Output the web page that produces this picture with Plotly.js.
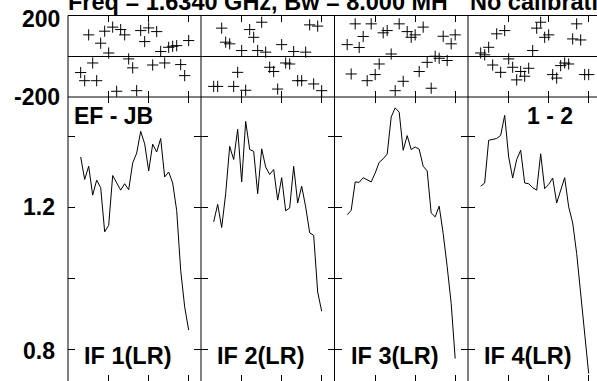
<!DOCTYPE html>
<html><head><meta charset="utf-8">
<script src="https://cdn.plot.ly/plotly-3.0.1.min.js"></script>
<style>html,body{margin:0;padding:0;background:#fff;overflow:hidden}#chart{width:597px;height:381px}</style>
</head><body><div id="chart"></div>
<script>
// ---- data ----
const channels = [3,4,5,6,7,8,9,10,11,12,13,14,15,16,17,18,19,20,21,22,23,24,25,26,27,28,29,30];
const phaseIF1 = [-80,-120,105,-33,-120,64,123,16,143,-172,131,105,-13,-57,-169,126,72,139,-43,121,23,-33,44,49,52,-41,-95,77];
const phaseIF2 = [-148,-148,138,69,61,-148,-79,28,-167,131,93,28,167,20,-54,-75,-161,57,-33,-38,23,-120,-120,20,154,-136,148,-169];
const phaseIF3 = [57,-87,159,43,97,-120,159,-90,-38,115,126,11,-169,159,-123,121,93,105,-75,143,-30,-157,0,-10,98,-21,61,105];
const phaseIF4 = [16,7,44,-43,110,-79,126,-13,-54,-116,-75,-98,-59,28,138,167,93,105,-90,-107,-46,-33,-38,85,159,80,-90,-90];
const ampIF1 = [1.341,1.278,1.315,1.234,1.276,1.255,1.131,1.149,1.289,1.268,1.248,1.266,1.249,1.324,1.352,1.413,1.378,1.302,1.377,1.355,1.393,1.285,1.299,1.268,1.191,1.023,0.920,0.855];
const ampIF2 = [1.159,1.208,1.143,1.238,1.371,1.334,1.419,1.271,1.441,1.362,1.357,1.238,1.364,1.313,1.292,1.306,1.220,1.283,1.190,1.198,1.315,1.212,1.259,1.201,1.128,1.121,0.962,0.908];
const ampIF3 = [1.179,1.191,1.271,1.270,1.283,1.276,1.271,1.296,1.326,1.336,1.349,1.453,1.479,1.467,1.360,1.401,1.362,1.369,1.363,1.315,1.302,1.184,1.173,1.203,1.126,1.033,0.930,0.775];
const ampIF4 = [1.259,1.268,1.388,1.390,1.393,1.402,1.458,1.341,1.282,1.334,1.360,1.268,1.266,1.255,1.248,1.350,1.252,1.264,1.282,1.212,1.246,1.283,1.201,1.156,1.070,0.958,0.846,0.733];
const ifLabels = ['IF 1(LR)','IF 2(LR)','IF 3(LR)','IF 4(LR)'];
const xTickVals = [10,20,30];
const phaseRange = [-200,200];
const phaseTickVals = [200,-200];
const phaseTickText = ['200','-200'];
const ampTickVals = [0.8,1.0,1.2,1.4];
const ampLabelVals = [1.2,0.8];
const ampLabelText = ['1.2','0.8'];
const titleText = 'Freq = 1.6340 GHz, Bw = 8.000 MHz';
const calText = 'No calibration';
const baselineText = 'EF - JB';
const stokesText = '1 - 2';

// ---- layout helpers ----
const W = 597, H = 381;
const px = p => p / W;
const py = p => (H - p) / H;
const panelX = [[68,201],[201,334.5],[334.5,468],[468,597]];
const phaseTop = 15.5, midY = 97;
const chPerPx = 0.25;
const xLeft = -0.17;
const ampRange = [0.7121, 1.5095];
const FONT = 'Liberation Sans, Arial, Helvetica, sans-serif';

const phases = [phaseIF1, phaseIF2, phaseIF3, phaseIF4];
const amps = [ampIF1, ampIF2, ampIF3, ampIF4];

const data = [];
const layout = {
  width: W, height: H, autosize: false,
  margin: {l:0, r:0, t:0, b:0, pad:0},
  paper_bgcolor: '#fff', plot_bgcolor: 'rgba(0,0,0,0)',
  showlegend: false,
  shapes: [], annotations: []
};

for (let i = 0; i < 4; i++) {
  const pi = i + 1, ai = i + 5;
  const [x0, x1] = panelX[i];
  const range = [xLeft, xLeft + (x1 - x0) * chPerPx];
  data.push({x: channels, y: phases[i], xaxis: 'x' + pi, yaxis: 'y' + pi, type: 'scatter', mode: 'markers',
    marker: {symbol: 'cross-thin', size: 8, color: '#000', line: {width: 1, color: '#000'}}, hoverinfo: 'skip'});
  data.push({x: channels, y: amps[i], xaxis: 'x' + ai, yaxis: 'y' + ai, type: 'scatter', mode: 'lines',
    line: {color: '#000', width: 1}, hoverinfo: 'skip'});
  const xcommon = {range: range, showgrid: false, zeroline: false, showline: false, ticks: 'inside', ticklen: 6, tickwidth: 1,
    tickcolor: '#000', tickvals: xTickVals, showticklabels: false, mirror: 'ticks', fixedrange: true,
    domain: [px(x0), px(x1)]};
  layout['xaxis' + pi] = Object.assign({}, xcommon, {anchor: 'y' + pi});
  layout['xaxis' + ai] = Object.assign({}, xcommon, {anchor: 'y' + ai});
  layout['yaxis' + pi] = {anchor: 'x' + pi, domain: [py(midY), py(phaseTop)], range: phaseRange, showgrid: false,
    zeroline: true, zerolinecolor: '#000', zerolinewidth: 1, showline: false, ticks: '', showticklabels: false, fixedrange: true};
  layout['yaxis' + ai] = {anchor: 'x' + ai, domain: [0, py(midY)], range: ampRange, showgrid: false, zeroline: false,
    showline: false, ticks: 'inside', ticklen: 7, tickwidth: 1, tickcolor: '#000', tickvals: ampTickVals,
    showticklabels: false, mirror: i < 3 ? 'ticks' : false, fixedrange: true};
  // frame: vertical left border
  layout.shapes.push({type: 'line', xref: 'paper', yref: 'paper', x0: px(x0), x1: px(x0), y0: py(phaseTop), y1: -0.01,
    line: {color: '#000', width: 1}});
  // IF label
  layout.annotations.push({xref: 'paper', yref: 'paper', x: px(x0 + 15), y: py(355.5), xanchor: 'left', yanchor: 'middle',
    text: ifLabels[i], showarrow: false, borderpad: 0, font: {family: FONT, size: 23.5, color: '#000', weight: 'bold'}});
}
// horizontal frame lines
[phaseTop, midY].forEach(yy => layout.shapes.push({type: 'line', xref: 'paper', yref: 'paper', x0: px(68), x1: 1.01,
  y0: py(yy), y1: py(yy), line: {color: '#000', width: 1}}));

// y labels
phaseTickVals.forEach((v, k) => layout.annotations.push({xref: 'paper', yref: 'y1', x: px(61), y: v, yshift: k === 0 ? -4 : 0,
  xanchor: 'right', yanchor: 'middle', text: phaseTickText[k], showarrow: false, borderpad: 0,
  font: {family: FONT, size: 23, color: '#000', weight: 'bold'}}));
ampLabelVals.forEach((v, k) => layout.annotations.push({xref: 'paper', yref: 'y5', x: px(55.5), y: v, yshift: k === 1 ? -1 : 0,
  xanchor: 'right', yanchor: 'middle', text: ampLabelText[k], showarrow: false, borderpad: 0,
  font: {family: FONT, size: 23, color: '#000', weight: 'bold'}}));

// panel labels
layout.annotations.push({xref: 'paper', yref: 'paper', x: px(73), y: py(116), xanchor: 'left', yanchor: 'middle',
  text: baselineText, showarrow: false, borderpad: 0, font: {family: FONT, size: 23, color: '#000', weight: 'bold'}});
layout.annotations.push({xref: 'paper', yref: 'paper', x: px(574), y: py(116), xanchor: 'right', yanchor: 'middle',
  text: stokesText, showarrow: false, borderpad: 0, font: {family: FONT, size: 23, color: '#000', weight: 'bold'}});

// title
layout.annotations.push({xref: 'paper', yref: 'paper', x: px(67), y: py(2), xanchor: 'left', yanchor: 'middle',
  text: titleText, showarrow: false, borderpad: 0, font: {family: FONT, size: 23.5, color: '#000', weight: 'bold'}});
layout.annotations.push({xref: 'paper', yref: 'paper', x: px(446), y: py(-8), xanchor: 'left', yanchor: 'top',
  text: ' ', width: 23, height: 21, bgcolor: '#fff', showarrow: false, borderpad: 0, font: {size: 10}});
layout.annotations.push({xref: 'paper', yref: 'paper', x: px(469), y: py(2), xanchor: 'left', yanchor: 'middle',
  text: calText, showarrow: false, borderpad: 0, font: {family: FONT, size: 23.5, color: '#000', weight: 'bold'}});

Plotly.newPlot('chart', data, layout, {staticPlot: true, displayModeBar: false});
</script></body></html>
